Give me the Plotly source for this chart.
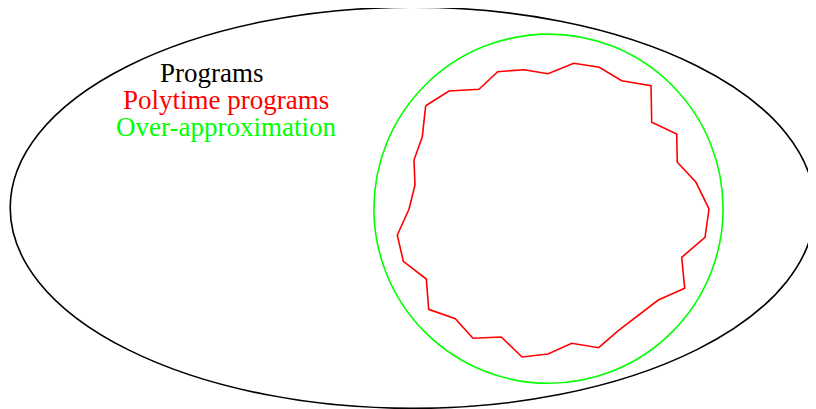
import plotly.graph_objects as go

# Canvas (pixel-like data units); the page body has an 8px margin
page_w = 816
page_h = 409
body_margin = 8

# Outer ellipse: "Programs"
ellipse_center = (412.5, 207.8)
ellipse_radii = (402.3, 200.6)

# Green circle: "Over-approximation"
circle_center = (548.5, 208.7)
circle_radius = 174.6

# Red jagged polygon: "Polytime programs"
poly_x = [425.7, 449.0, 479.0, 497.7, 524.0, 548.0, 573.7, 599.3, 621.7, 651.0,
          651.7, 676.7, 677.3, 696.0, 709.0, 705.0, 681.7, 684.7, 658.3, 638.3,
          618.3, 598.7, 571.7, 548.0, 522.0, 501.3, 473.0, 455.3, 428.7, 426.3,
          403.3, 397.3, 409.0, 415.0, 414.0, 422.3, 425.7]
poly_y = [105.7, 91.0, 89.3, 71.7, 69.7, 73.7, 63.3, 67.3, 80.7, 85.7,
          122.3, 134.0, 162.3, 182.3, 209.0, 237.3, 257.3, 288.3, 300.0, 315.7,
          330.7, 347.7, 343.3, 354.0, 357.0, 337.0, 338.3, 318.7, 309.3, 279.0,
          261.3, 235.0, 209.3, 185.0, 160.0, 136.7, 105.7]

# Labels
label_texts = ["Programs", "Polytime programs", "Over-approximation"]
label_colors = ["#000000", "#ff0000", "#00ff00"]
label_x = [212, 225.8, 225.8]
label_y = [73, 100, 127]

fig = go.Figure()

fig.add_trace(go.Scatter(
    x=poly_x, y=poly_y, mode="lines",
    line=dict(color="#ff0000", width=1.6),
    hoverinfo="skip", showlegend=False,
))

fig.add_shape(
    type="circle", xref="x", yref="y",
    x0=ellipse_center[0] - ellipse_radii[0], x1=ellipse_center[0] + ellipse_radii[0],
    y0=ellipse_center[1] - ellipse_radii[1], y1=ellipse_center[1] + ellipse_radii[1],
    line=dict(color="#000000", width=1.6),
)
fig.add_shape(
    type="circle", xref="x", yref="y",
    x0=circle_center[0] - circle_radius, x1=circle_center[0] + circle_radius,
    y0=circle_center[1] - circle_radius, y1=circle_center[1] + circle_radius,
    line=dict(color="#00ff00", width=1.6),
)

for t, c, x, y in zip(label_texts, label_colors, label_x, label_y):
    fig.add_annotation(
        x=x, y=y, xref="x", yref="y", text=t, showarrow=False,
        xanchor="center", yanchor="middle",
        font=dict(family="Liberation Serif, DejaVu Serif, serif", size=27, color=c),
    )

fig.update_xaxes(range=[body_margin, page_w], visible=False, showgrid=False, zeroline=False)
fig.update_yaxes(range=[page_h, body_margin], visible=False, showgrid=False, zeroline=False)
fig.update_layout(
    width=page_w - body_margin, height=page_h - body_margin,
    margin=dict(l=0, r=0, t=0, b=0),
    paper_bgcolor="white", plot_bgcolor="white",
    showlegend=False,
)

fig.write_html("out.html")
